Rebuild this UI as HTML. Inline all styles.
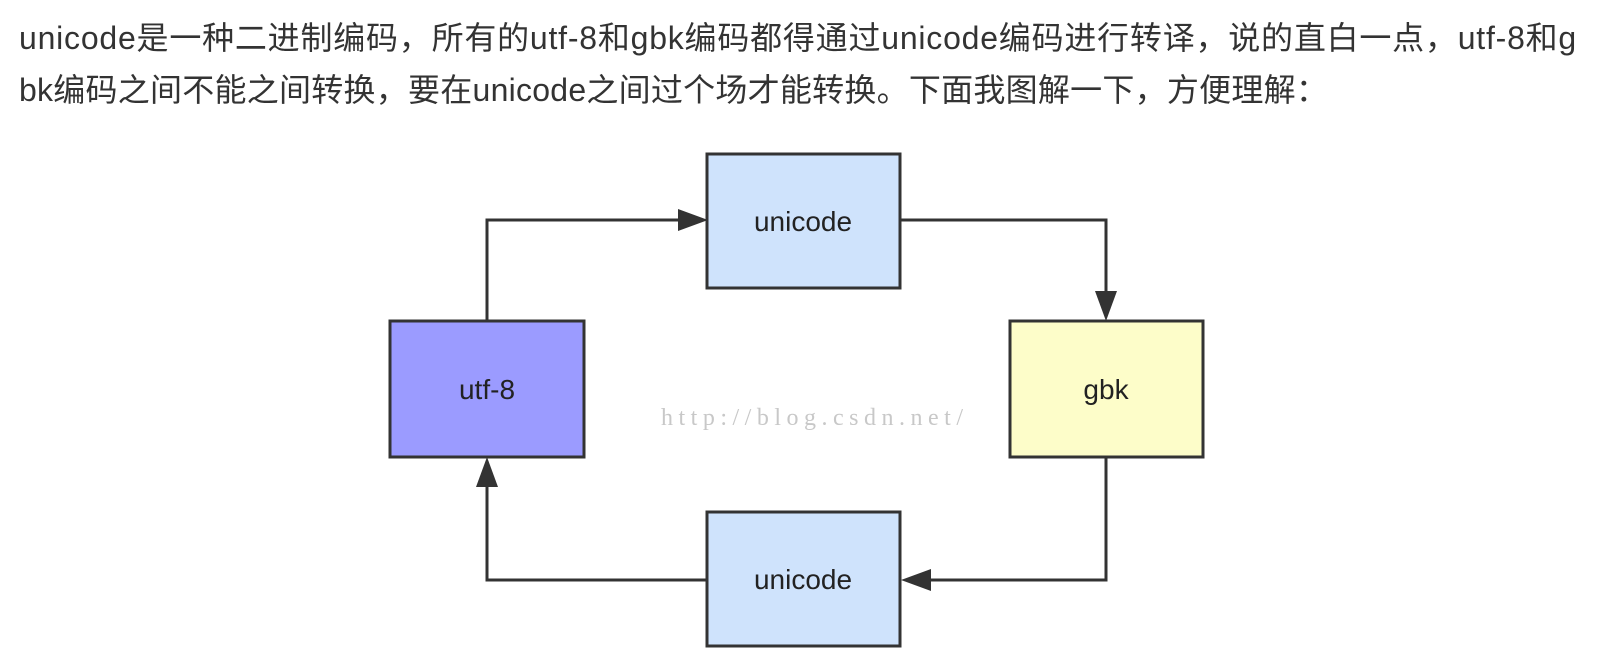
<!DOCTYPE html>
<html><head><meta charset="utf-8"><style>
html,body{margin:0;padding:0;background:#fff;width:1620px;height:672px;overflow:hidden}
.t{position:absolute;left:19px;font-family:"Liberation Sans","Noto Sans CJK SC",sans-serif;font-size:32px;color:#333;white-space:nowrap;line-height:40px}
</style></head><body>
<div class="t" style="top:18px;letter-spacing:0.78px">unicode是一种二进制编码，所有的utf-8和gbk编码都得通过unicode编码进行转译，说的直白一点，utf-8和g</div>
<div class="t" style="top:70px;letter-spacing:0.25px">bk编码之间不能之间转换，要在unicode之间过个场才能转换。下面我图解一下，方便理解：</div>
<svg width="1620" height="672" style="position:absolute;left:0;top:0">
<g fill="none" stroke="#333" stroke-width="3">
<polyline points="487,321 487,220 680,220"/>
<polyline points="901,220 1106,220 1106,292"/>
<polyline points="1106,457 1106,580 930,580"/>
<polyline points="708,580 487,580 487,486"/>
</g>
<g fill="#333">
<polygon points="708,220 678,209 678,231"/>
<polygon points="1106,321 1095,291 1117,291"/>
<polygon points="901,580 931,569 931,591"/>
<polygon points="487,457 476,487 498,487"/>
</g>
<g stroke="#333" stroke-width="3">
<rect x="707" y="154" width="193" height="134" fill="#cfe3fc"/>
<rect x="390" y="321" width="194" height="136" fill="#9b9bff"/>
<rect x="1010" y="321" width="193" height="136" fill="#fdfdc9"/>
<rect x="707" y="512" width="193" height="134" fill="#cfe3fc"/>
</g>
<g font-family="Liberation Sans,sans-serif" font-size="28" fill="#222" text-anchor="middle">
<text x="803" y="231">unicode</text>
<text x="487" y="399">utf-8</text>
<text x="1106" y="399">gbk</text>
<text x="803" y="589">unicode</text>
</g>
<text x="661" y="425" font-family="Liberation Serif,serif" font-size="24" letter-spacing="5.5" fill="#c8c8c8">http://blog.csdn.net/</text>
</svg>
</body></html>
